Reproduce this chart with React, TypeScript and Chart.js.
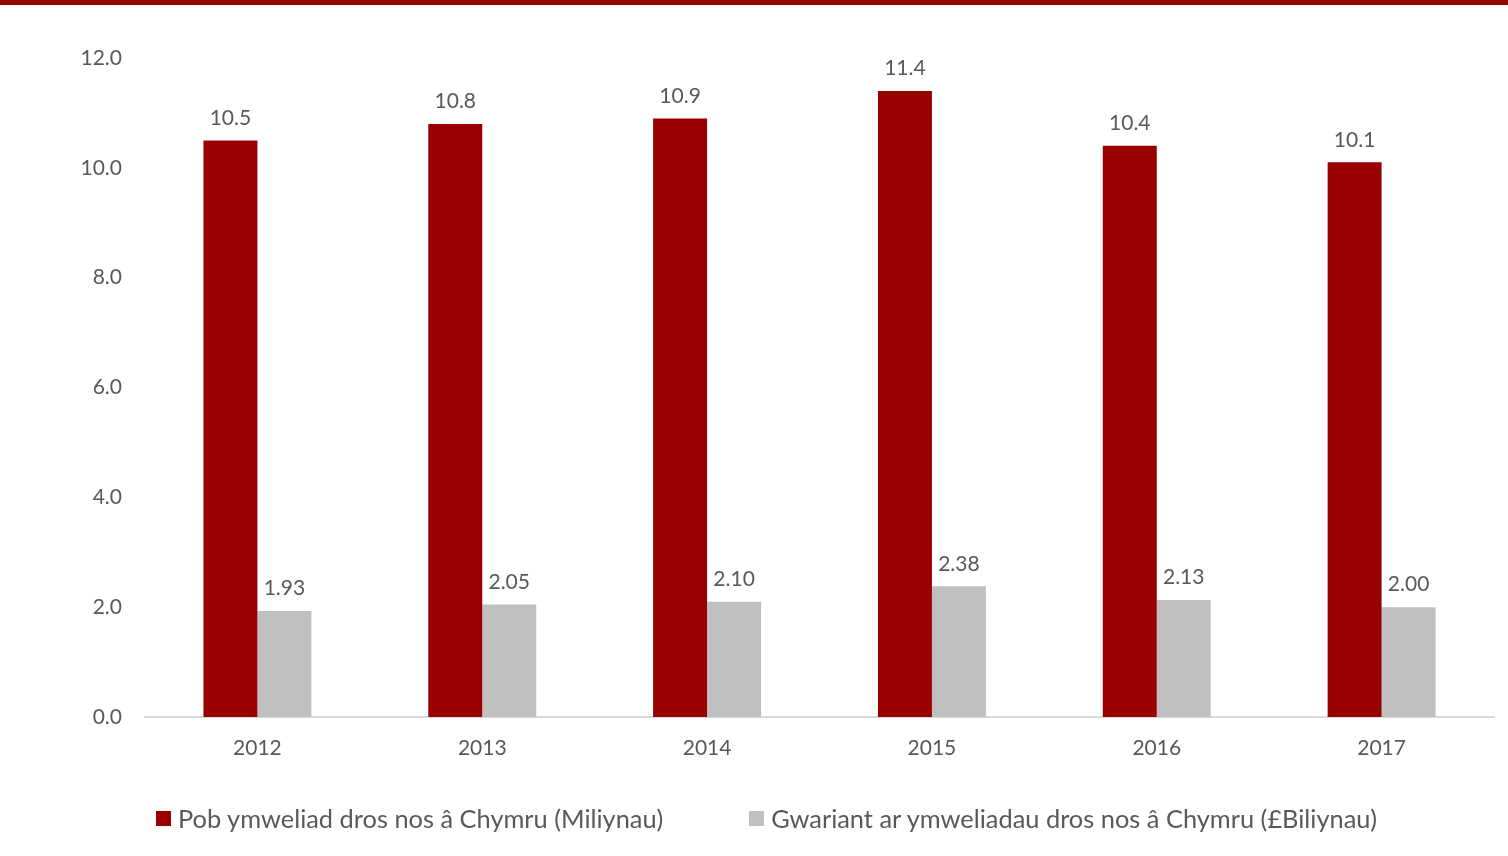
import React, { useEffect, useRef } from "react";
import { Chart, registerables } from "chart.js";

Chart.register(...registerables);

const years = ["2012", "2013", "2014", "2015", "2016", "2017"];
const visits = [10.5, 10.8, 10.9, 11.4, 10.4, 10.1];
const spend = [1.93, 2.05, 2.1, 2.38, 2.13, 2.0];
const seriesNames = [
  "Pob ymweliad dros nos â Chymru (Miliynau)",
  "Gwariant ar ymweliadau dros nos â Chymru (£Biliynau)",
];
const seriesColors = ["#990000", "#BFBFBF"];
const seriesDecimals = [1, 2];
const yTicks = { min: 0, max: 12, step: 2 };

const FONT = "Lato, 'Open Sans', sans-serif";
const TEXT = "#595959";

const valueLabels = {
  id: "valueLabels",
  afterDatasetsDraw(chart: any) {
    const ctx = chart.ctx;
    ctx.save();
    ctx.font = `21px ${FONT}`;
    ctx.fillStyle = TEXT;
    ctx.textAlign = "center";
    ctx.textBaseline = "bottom";
    chart.data.datasets.forEach((ds: any, di: number) => {
      const meta = chart.getDatasetMeta(di);
      meta.data.forEach((bar: any, i: number) => {
        const v = ds.data[i] as number;
        ctx.fillText(v.toFixed(seriesDecimals[di]), bar.x, bar.y - 12);
      });
    });
    ctx.restore();
  },
};

export default function App() {
  const ref = useRef<HTMLCanvasElement | null>(null);

  useEffect(() => {
    document.body.style.margin = "0";
    if (!ref.current) return;
    const chart = new Chart(ref.current, {
      type: "bar",
      data: {
        labels: years,
        datasets: [
          { label: seriesNames[0], data: visits, backgroundColor: seriesColors[0] },
          { label: seriesNames[1], data: spend, backgroundColor: seriesColors[1] },
        ],
      },
      options: {
        animation: false,
        responsive: false,
        maintainAspectRatio: false,
        layout: { padding: { top: 58, right: 14, left: 0, bottom: 0 } },
        datasets: { bar: { categoryPercentage: 0.48, barPercentage: 1 } },
        plugins: {
          legend: { display: false },
          tooltip: { enabled: false },
        },
        scales: {
          x: {
            grid: { display: false, drawTicks: false },
            border: { display: true, color: "#D9D9D9", width: 2 },
            ticks: { color: TEXT, font: { family: FONT, size: 21 }, padding: 19 },
            afterFit: (s: any) => {
              s.height = 139;
            },
          },
          y: {
            min: yTicks.min,
            max: yTicks.max,
            grid: { display: false, drawTicks: false },
            border: { display: false },
            ticks: {
              stepSize: yTicks.step,
              color: TEXT,
              font: { family: FONT, size: 21 },
              padding: 23,
              callback: (v: any) => Number(v).toFixed(1),
            },
            afterFit: (s: any) => {
              s.width = 145;
            },
          },
        },
      },
      plugins: [valueLabels],
    });
    return () => chart.destroy();
  }, []);

  return (
    <div style={{ position: "relative", width: 1508, height: 856, background: "#fff", fontFamily: FONT }}>
      <div style={{ position: "absolute", left: 0, top: 0, width: 1508, height: 5, background: "#990000" }} />
      <canvas ref={ref} width={1508} height={856} style={{ display: "block" }} />
      <div
        style={{
          position: "absolute",
          left: 156,
          top: 803,
          display: "flex",
          alignItems: "center",
          height: 30,
          color: TEXT,
          fontSize: 25.4,
          whiteSpace: "nowrap",
        }}
      >
        {seriesNames.map((n, i) => (
          <div key={n} style={{ display: "flex", alignItems: "center", marginRight: i === 0 ? 86 : 0 }}>
            <span style={{ display: "inline-block", width: 15, height: 15, background: seriesColors[i], marginRight: 7 }} />
            <span>{n}</span>
          </div>
        ))}
      </div>
    </div>
  );
}
